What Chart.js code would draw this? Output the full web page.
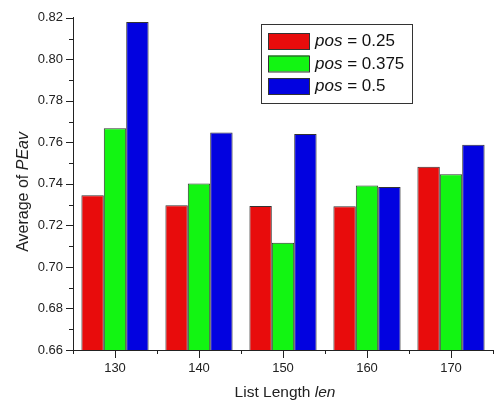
<!DOCTYPE html>
<html>
<head>
<meta charset="utf-8">
<script src="https://cdn.jsdelivr.net/npm/chart.js@4"></script>
<style>
  html, body { margin: 0; padding: 0; background: #fff; }
  #wrap { width: 494px; height: 404px; }
</style>
</head>
<body>
<div id="wrap"><canvas id="grafico" width="494" height="404"></canvas></div>
<script>
const categorias = ["130", "140", "150", "160", "170"];
const pos025 = [0.7345, 0.7297, 0.7293, 0.7292, 0.7483];
const pos0375 = [0.7668, 0.7402, 0.7116, 0.7392, 0.7447];
const pos05 = [0.8180, 0.7648, 0.7640, 0.7385, 0.7588];
const etiquetas = ["0.25", "0.375", "0.5"];
const colores = ["#e80c0c", "#12f512", "#0202e0"];

const fuente = '"Liberation Sans", Arial, sans-serif';

// ticks, axis titles and legend with mixed italic text
const extras = {
    id: "extras",
    afterDraw(chart) {
        const ctx = chart.ctx;
        const x = chart.scales.x, y = chart.scales.y;
        const area = chart.chartArea;
        ctx.save();
        ctx.strokeStyle = "#222";
        ctx.lineWidth = 1;
        // y ticks (major 0.02, minor 0.01)
        for (let i = 0; i <= 16; i++) {
            const v = 0.66 + i * 0.01;
            const py = Math.round(y.getPixelForValue(v)) + 0.5;
            const len = i % 2 === 0 ? 7 : 4;
            ctx.beginPath();
            ctx.moveTo(area.left - len, py);
            ctx.lineTo(area.left, py);
            ctx.stroke();
        }
        // x ticks
        for (let i = 0; i < categorias.length; i++) {
            const px = Math.round(x.getPixelForValue(i)) + 0.5;
            ctx.beginPath();
            ctx.moveTo(px, area.bottom);
            ctx.lineTo(px, area.bottom + 8);
            ctx.stroke();
        }
        for (let i = 0; i <= categorias.length; i++) {
            const px = Math.round(x.getPixelForValue(i - 0.5)) + 0.5;
            ctx.beginPath();
            ctx.moveTo(px, area.bottom);
            ctx.lineTo(px, area.bottom + 4);
            ctx.stroke();
        }

        function mixto(partes, cx, cy, size) {
            let total = 0;
            partes.forEach(p => {
                ctx.font = (p[1] ? "italic " : "") + size + "px " + fuente;
                total += ctx.measureText(p[0]).width;
            });
            let sx = cx - total / 2;
            partes.forEach(p => {
                ctx.font = (p[1] ? "italic " : "") + size + "px " + fuente;
                ctx.fillText(p[0], sx, cy);
                sx += ctx.measureText(p[0]).width;
            });
        }

        ctx.fillStyle = "#222";
        ctx.textBaseline = "middle";
        ctx.textAlign = "left";
        // x title
        mixto([["List Length ", false], ["len", true]], (area.left + area.right) / 2 + 2, 393, 15.5);
        // y title
        ctx.save();
        ctx.translate(24, (area.top + area.bottom) / 2 + 8);
        ctx.rotate(-Math.PI / 2);
        mixto([["Average of ", false], ["PEav", true]], 0, 0, 16);
        ctx.restore();

        // legend
        ctx.strokeStyle = "#333";
        ctx.strokeRect(261.5, 24.5, 151, 79);
        for (let i = 0; i < etiquetas.length; i++) {
            const ty = 33 + i * 22.5;
            ctx.fillStyle = colores[i];
            ctx.fillRect(268, ty, 41, 16);
            ctx.strokeStyle = "#333";
            ctx.strokeRect(268.5, ty + 0.5, 41, 16);
            ctx.fillStyle = "#111";
            ctx.textAlign = "left";
            ctx.font = "italic 17px " + fuente;
            ctx.fillText("pos", 315, ty + 8.5);
            const w = ctx.measureText("pos").width;
            ctx.font = "17px " + fuente;
            ctx.fillText(" = " + etiquetas[i], 315 + w, ty + 8.5);
        }
        ctx.restore();
    }
};

new Chart(document.getElementById("grafico").getContext("2d"), {
    type: "bar",
    data: {
        labels: categorias,
        datasets: [pos025, pos0375, pos05].map((d, i) => ({
            label: "pos = " + etiquetas[i],
            data: d,
            backgroundColor: colores[i],
            borderColor: "#333",
            borderWidth: 1,
            borderSkipped: "bottom",
            categoryPercentage: 0.8,
            barPercentage: 1.0
        }))
    },
    options: {
        responsive: false,
        animation: false,
        devicePixelRatio: 1,
        layout: { padding: { top: 17, right: 1, left: 0, bottom: 0 } },
        plugins: { legend: { display: false }, tooltip: { enabled: false } },
        scales: {
            x: {
                grid: { display: false, drawTicks: false },
                border: { display: true, color: "#222", width: 1 },
                ticks: { color: "#222", font: { family: fuente, size: 13 }, padding: 11 },
                afterFit: s => { s.height = 54; }
            },
            y: {
                min: 0.66,
                max: 0.82,
                grid: { display: false, drawTicks: false },
                border: { display: true, color: "#222", width: 1 },
                ticks: {
                    stepSize: 0.02,
                    color: "#222",
                    font: { family: fuente, size: 13 },
                    padding: 10,
                    callback: v => v.toFixed(2)
                },
                afterFit: s => { s.width = 73; }
            }
        }
    },
    plugins: [extras]
});
</script>
</body>
</html>
